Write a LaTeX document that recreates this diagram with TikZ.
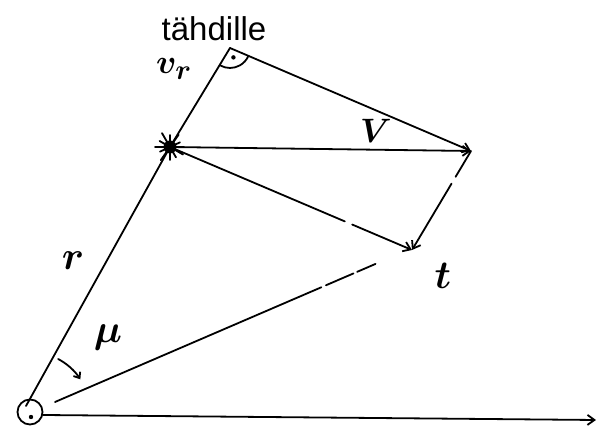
\documentclass[tikz,border=0pt]{standalone}
\usepackage{fontspec}
\setmainfont{Liberation Sans}
\usepackage{tikz}
\usetikzlibrary{arrows.meta}

\begin{document}
\begin{tikzpicture}[x=1pt, y=1pt,
    % Line styles
    line/.style={line width=1.8pt, line cap=round},
    vector/.style={line, -{Straight Barb[length=7pt, width=10pt, line width=1.8pt]}},
    % Label styles
    hand/.style={font=\Huge\boldmath, scale=1.6},
    title/.style={font=\fontsize{33}{36}\selectfont}
]
\useasboundingbox (0,0) rectangle (598,433);

% Observer and star
\node[circle, draw, line width=1.8pt, minimum size=25pt, inner sep=0pt] (obs) at (30,21) {};
\fill (31,16) circle (2.2pt);
\coordinate (star) at (170,286);

% Vector end points
\coordinate (vr) at (230,385);
\coordinate (V) at (471,282);
\coordinate (t) at (412,183);
\coordinate (ref) at (380,171);
\coordinate (xs) at (43,18);
\coordinate (xe) at (596,13);
\coordinate (ls) at (55,31);
\coordinate (rs) at (26,27);

% Star
\foreach \a/\l in {0/14,25/11,55/15,90/12,120/16,150/12,180/15,205/11,235/16,270/13,300/12,330/15}
    \draw[line] (star) -- ++(\a:\l);
\fill (star) circle (6.5pt);

% Lines from the observer
\draw[line] (rs) -- (star);
\draw[line, dash pattern=on 290pt off 5pt on 30pt off 4pt on 20pt] (ls) -- (ref);
\draw[vector] (xs) -- (xe);

% Velocity vectors
\draw[line] (star) -- (vr);
\draw[vector] (vr) -- (V);
\draw[vector] (star) -- (V);
\draw[vector, dash pattern=on 190pt off 8pt on 200pt] (star) -- (t);
\draw[vector, dash pattern=on 30pt off 8pt on 200pt] (V) -- (t);

% Right angle and angle mu
\draw[line] ([shift={(240:20)}]vr) arc[start angle=240, end angle=335, radius=20];
\fill ([shift={(290:10)}]vr) circle (2.2pt);
\draw[line, -{Straight Barb[length=5pt, width=8pt, line width=1.8pt]}]
    ([shift={(62:60)}]obs.center) arc[start angle=62, end angle=33, radius=60];

% Labels
\node[title] (lbl-title) at (214,404) {tähdille};
\node[hand, scale=0.85] (lbl-vr) at (174,364) {$v_r$};
\node[hand, scale=0.85] (lbl-V) at (376,302) {$V$};
\node[hand] (lbl-r) at (73,172) {$r$};
\node[hand] (lbl-mu) at (108,95) {$\mu$};
\node[hand] (lbl-t) at (443,157) {$t$};

\end{tikzpicture}
\end{document}
